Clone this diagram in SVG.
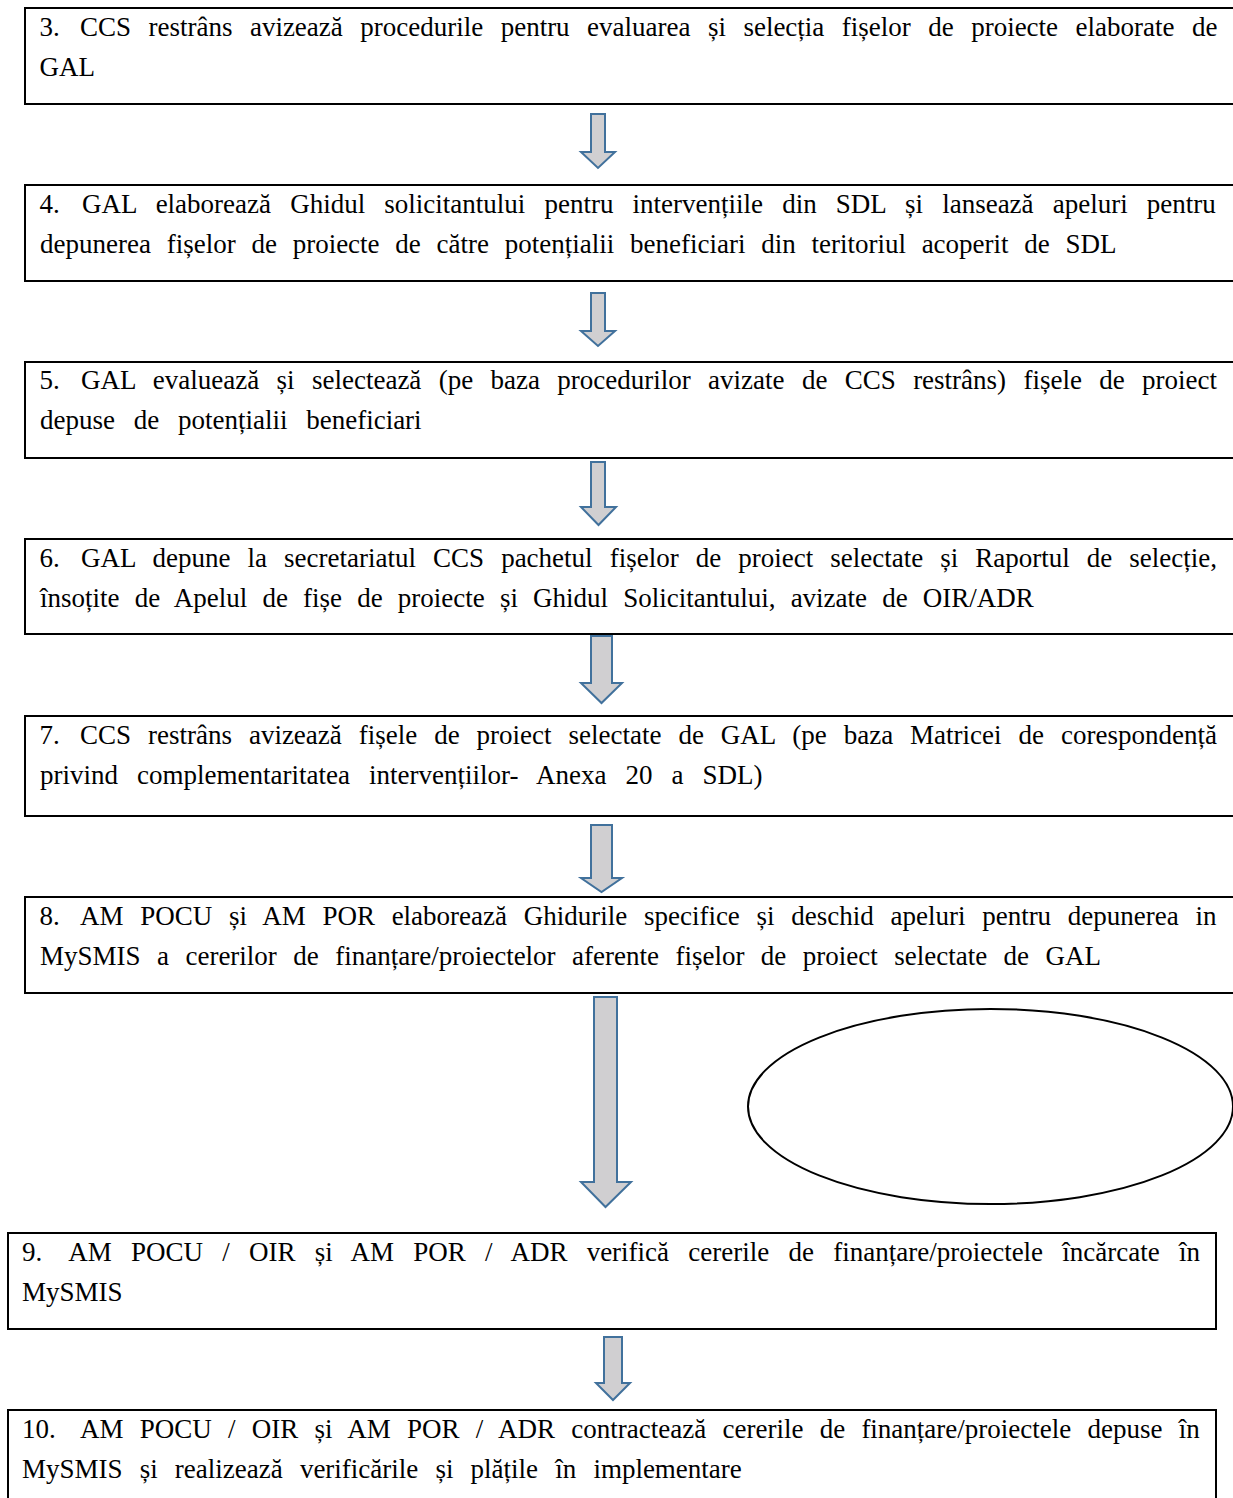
<svg xmlns="http://www.w3.org/2000/svg" width="1233" height="1498" viewBox="0 0 1233 1498">
<style>
.box{fill:#fff;stroke:#000;stroke-width:2}
.t{font-family:"Liberation Serif","Times New Roman",serif;font-size:27px;fill:#000}
.arr{fill:#d0cfd1;stroke:#41719c;stroke-width:2;stroke-linejoin:miter}
.ell{fill:#fff;stroke:#000;stroke-width:2}
</style>
<rect width="1233" height="1498" fill="#fff"/>
<g id="connectors">
<polygon class="arr" points="591,114 605,114 605,152 615,152 598,168 581,152 591,152"/>
<polygon class="arr" points="591,293 605,293 605,331 615,331 598,346 581,331 591,331"/>
<polygon class="arr" points="591,462 605,462 605,507 616,507 598.5,525 581,507 591,507"/>
<polygon class="arr" points="591,636 612,636 612,683 622,683 601.5,703 581,683 591,683"/>
<polygon class="arr" points="591,825 612,825 612,878 622,878 601.5,892 581,878 591,878"/>
<polygon class="arr" points="594,997 617,997 617,1182 631,1182 605.5,1207 581,1182 594,1182"/>
<polygon class="arr" points="604,1337 622,1337 622,1383 630,1383 613,1400 596,1383 604,1383"/>
</g>
<g id="node3">
<rect class="box" x="25" y="8" width="1240" height="96"/>
<text class="t" x="39.5" y="36">3.</text>
<text class="t" x="80" y="36" word-spacing="10.7">CCS restrâns avizează procedurile pentru evaluarea și selecția fișelor de proiecte elaborate de</text>
<text class="t" x="39.5" y="76">GAL</text>
</g>
<g id="node4">
<rect class="box" x="25" y="185" width="1240" height="96"/>
<text class="t" x="39.5" y="213">4.</text>
<text class="t" x="82" y="213" word-spacing="12.4">GAL elaborează Ghidul solicitantului pentru intervențiile din SDL și lansează apeluri pentru</text>
<text class="t" x="40" y="253" word-spacing="9">depunerea fișelor de proiecte de către potențialii beneficiari din teritoriul acoperit de SDL</text>
</g>
<g id="node5">
<rect class="box" x="25" y="362" width="1240" height="96"/>
<text class="t" x="39.5" y="389">5.</text>
<text class="t" x="81" y="389" word-spacing="10.6">GAL evaluează și selectează (pe baza procedurilor avizate de CCS restrâns) fișele de proiect</text>
<text class="t" x="40" y="429" word-spacing="12">depuse de potențialii beneficiari</text>
</g>
<g id="node6">
<rect class="box" x="25" y="539" width="1240" height="95"/>
<text class="t" x="39.5" y="567">6.</text>
<text class="t" x="81" y="567" word-spacing="10.3">GAL depune la secretariatul CCS pachetul fișelor de proiect selectate și Raportul de selecție,</text>
<text class="t" x="40" y="607" word-spacing="8.4">însoțite de Apelul de fișe de proiecte și Ghidul Solicitantului, avizate de OIR/ADR</text>
</g>
<g id="node7">
<rect class="box" x="25" y="716" width="1240" height="100"/>
<text class="t" x="39.5" y="744">7.</text>
<text class="t" x="80" y="744" word-spacing="10.2">CCS restrâns avizează fișele de proiect selectate de GAL (pe baza Matricei de corespondență</text>
<text class="t" x="40" y="784" word-spacing="12.3">privind complementaritatea intervențiilor- Anexa 20 a SDL)</text>
</g>
<g id="node8">
<rect class="box" x="25" y="897" width="1240" height="96"/>
<text class="t" x="39.5" y="925">8.</text>
<text class="t" x="80" y="925" word-spacing="9.96">AM POCU și AM POR elaborează Ghidurile specifice și deschid apeluri pentru depunerea in</text>
<text class="t" x="40" y="965" word-spacing="9.7">MySMIS a cererilor de finanțare/proiectelor aferente fișelor de proiect selectate de GAL</text>
</g>
<g id="ellipse">
<ellipse class="ell" cx="990.5" cy="1106.5" rx="242.5" ry="97.5"/>
</g>
<g id="node9">
<rect class="box" x="8" y="1233" width="1208" height="96"/>
<text class="t" x="22" y="1261">9.</text>
<text class="t" x="68.3" y="1261" word-spacing="12.5">AM POCU / OIR și AM POR / ADR verifică cererile de finanțare/proiectele încărcate în</text>
<text class="t" x="22" y="1301">MySMIS</text>
</g>
<g id="node10">
<rect class="box" x="8" y="1410" width="1208" height="100"/>
<text class="t" x="22" y="1438">10.</text>
<text class="t" x="80" y="1438" word-spacing="9.5">AM POCU / OIR și AM POR / ADR contractează cererile de finanțare/proiectele depuse în</text>
<text class="t" x="22" y="1478" word-spacing="10.4">MySMIS și realizează verificările și plățile în implementare</text>
</g>
</svg>
